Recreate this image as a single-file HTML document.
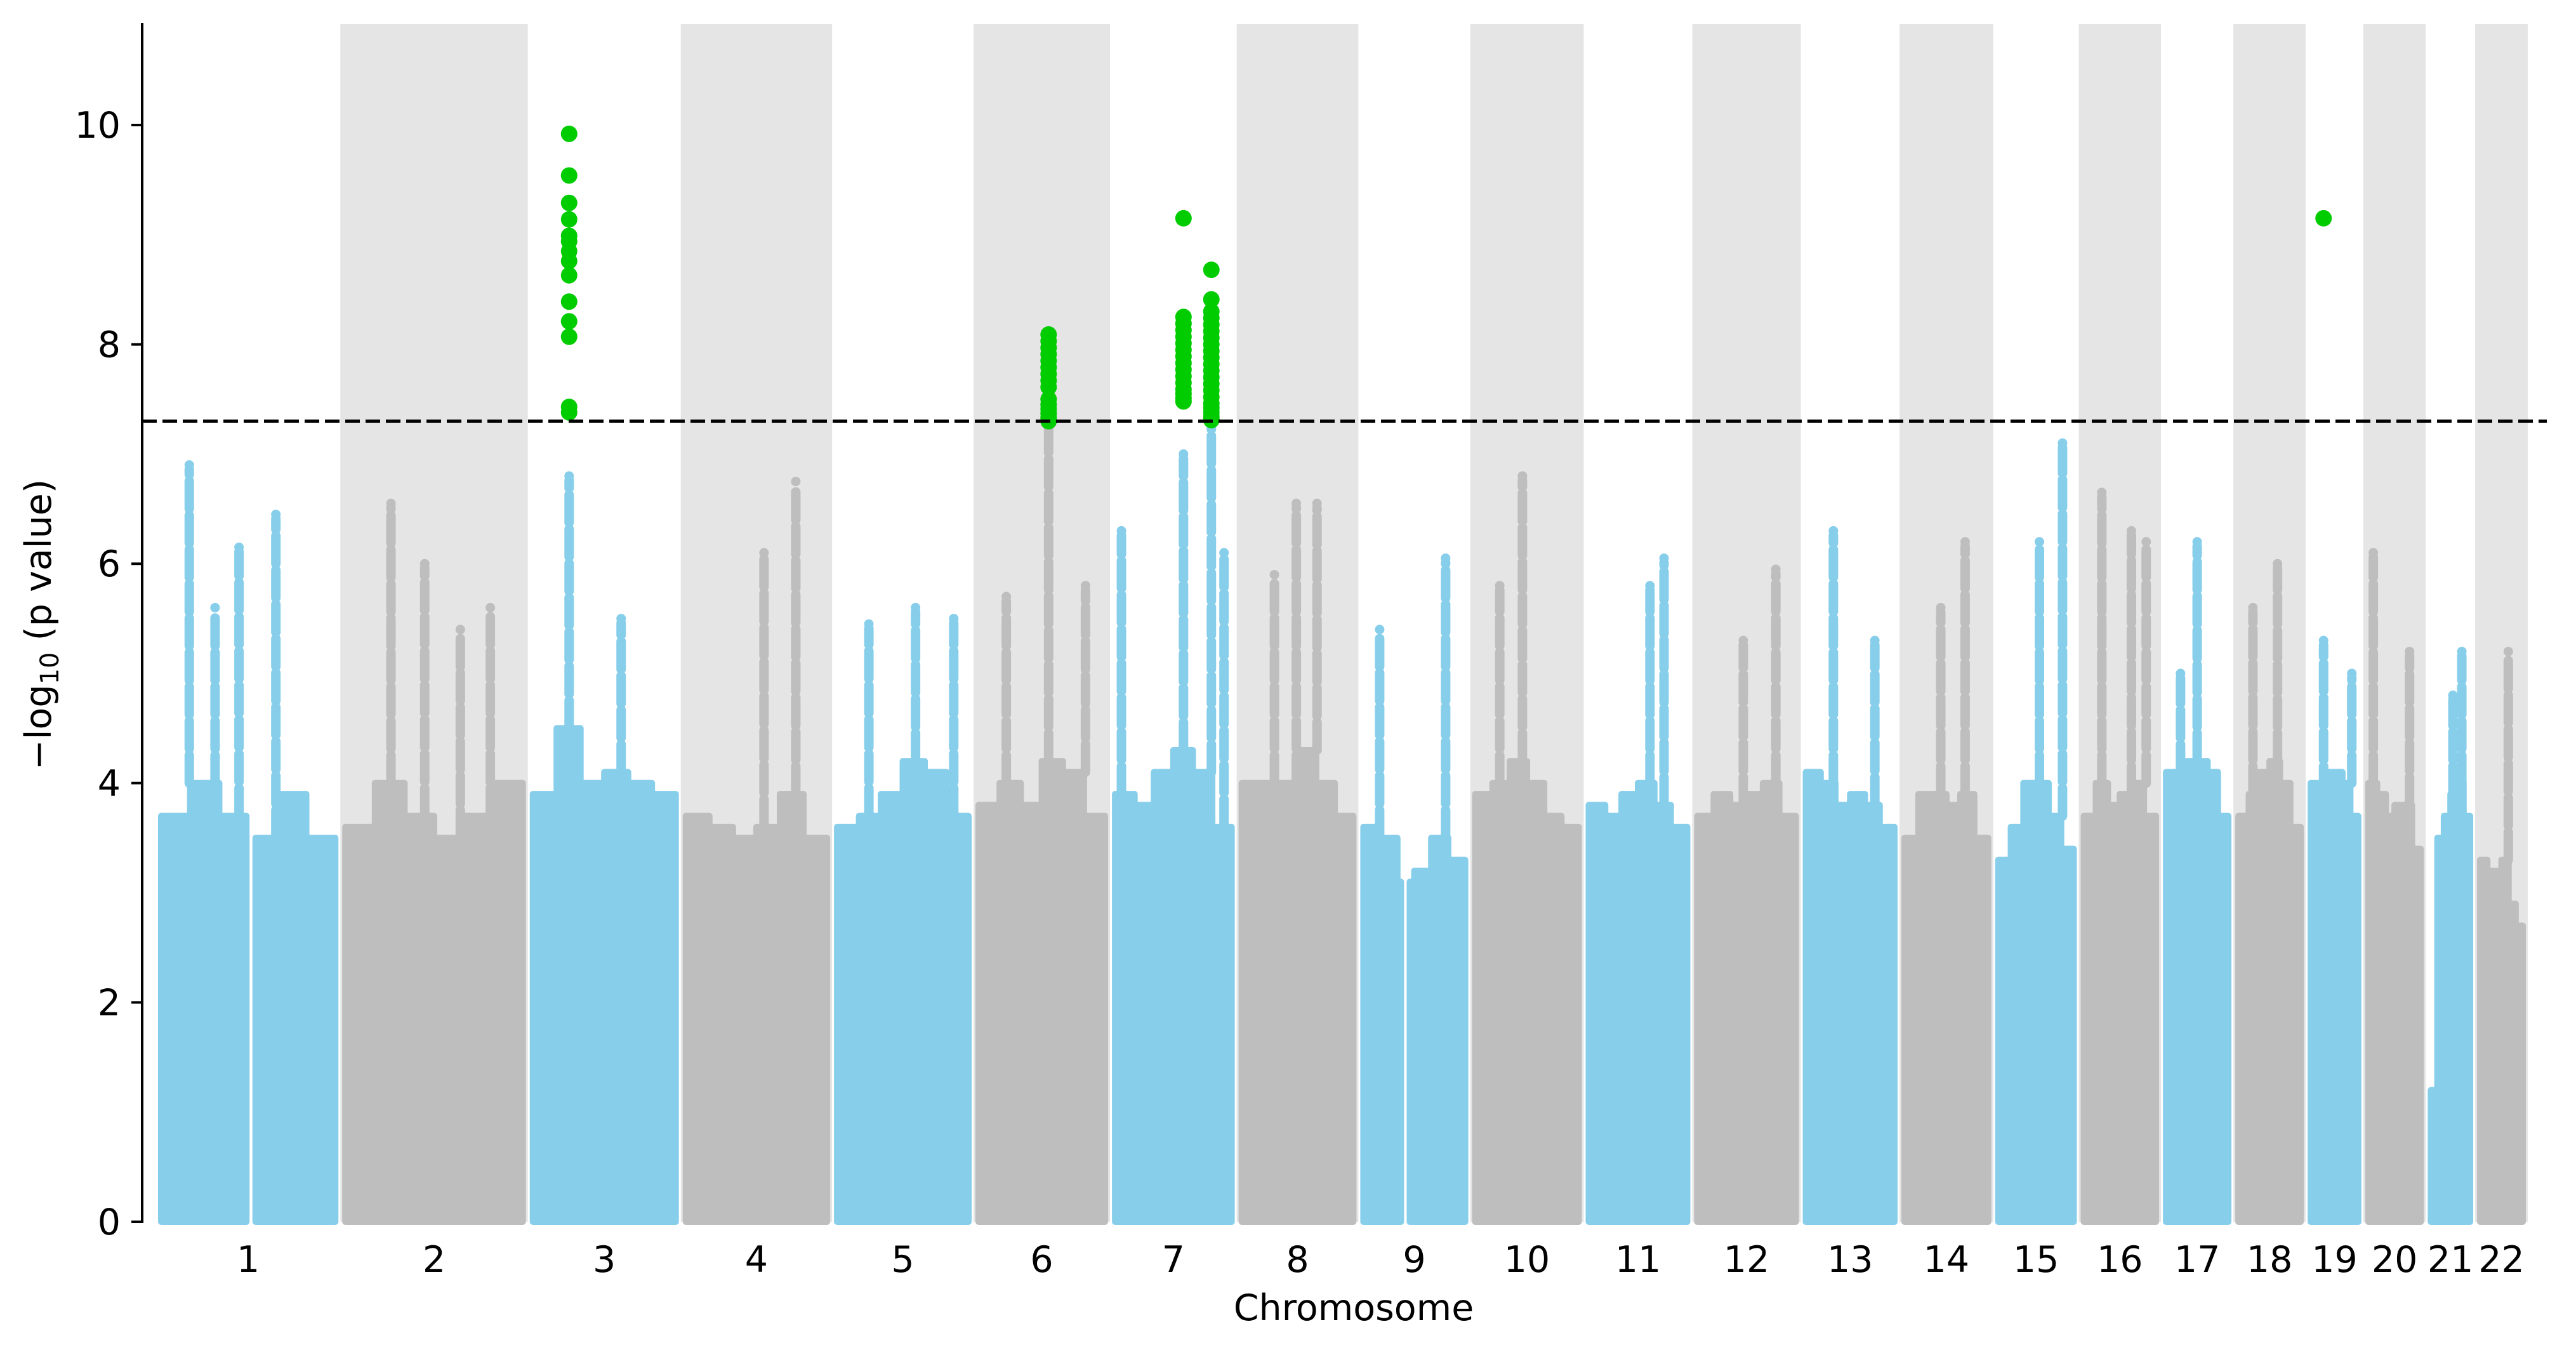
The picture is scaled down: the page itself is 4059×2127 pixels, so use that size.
<!DOCTYPE html>
<html><head><meta charset="utf-8"><style>
html,body{margin:0;padding:0;background:#fff;}
svg{display:block;font-family:"DejaVu Sans","Liberation Sans",sans-serif;}
</style></head><body>
<svg id="chart" width="4059" height="2127" viewBox="0 0 4059 2127" xmlns="http://www.w3.org/2000/svg">
<g id="bands"></g>
<g id="mass"></g>
<g id="sig"></g>
<line id="thr" x1="224" x2="4013" stroke="#000" stroke-width="5" stroke-dasharray="23,9"/>
<line x1="224" y1="36" x2="224" y2="1927" stroke="#000" stroke-width="4"/>
<g id="yticks"></g>
<g id="xticks"></g>
<text x="2133" y="2080" font-size="57" text-anchor="middle">Chromosome</text>
<text transform="translate(80,984) rotate(-90)" font-size="57" text-anchor="middle">−log<tspan font-size="40" dy="12">10</tspan><tspan dy="-12"> (p value)</tspan></text>
</svg>
<script>
const chromosomes=["1","2","3","4","5","6","7","8","9","10","11","12","13","14","15","16","17","18","19","20","21","22"];
const chromWidths=[112,114,93,92,86,83,77,74,68,69,66,66,60,57,52,50,44,44,35,38,30,32];
const binTops=[
[3.7,4.0,3.7,3.5,3.9,3.5],[3.6,4.0,3.7,3.5,3.7,4.0],[3.9,4.5,4.0,4.1,4.0,3.9],[3.7,3.6,3.5,3.6,3.9,3.5],
[3.6,3.7,3.9,4.2,4.1,3.7],[3.8,4.0,3.8,4.2,4.1,3.7],[3.9,3.8,4.1,4.3,4.1,3.6],[4.0,4.0,4.0,4.3,4.0,3.7],
[3.6,3.5,3.1,3.2,3.5,3.3],[3.9,4.0,4.2,4.0,3.7,3.6],[3.8,3.7,3.9,4.0,3.8,3.6],[3.7,3.9,3.8,3.9,4.0,3.7],
[4.1,4.0,3.8,3.9,3.8,3.6],[3.5,3.9,3.9,3.8,3.9,3.5],[3.3,3.6,4.0,4.0,3.7,3.4],[3.7,4.0,3.8,3.9,4.0,3.7],
[4.1,4.1,4.2,4.2,4.1,3.7],[3.7,3.9,4.1,4.2,4.0,3.6],[4.0,3.9,4.1,4.1,4.0,3.7],[4.0,3.9,3.7,3.8,3.8,3.4],
[1.2,3.5,3.7,3.9,4.0,3.7],[3.3,3.2,3.2,3.3,2.9,2.7]];
const gaps=[[1,0.49,0.54],[9,0.38,0.46]];
const spikeChrom=[1,1,1,1,2,2,2,2,3,3,4,4,5,5,5,6,6,6,7,7,7,7,8,8,8,9,9,10,10,11,11,12,12,13,13,14,14,15,15,16,16,16,17,17,18,18,19,19,20,20,21,21,22];
const spikeFrac=[0.18,0.45,0.65,0.32,0.27,0.45,0.80,0.64,0.27,0.61,0.76,0.55,0.26,0.59,0.86,0.55,0.24,0.82,0.09,0.58,0.80,0.90,0.49,0.66,0.31,0.19,0.78,0.46,0.26,0.61,0.74,0.77,0.47,0.33,0.75,0.70,0.44,0.81,0.54,0.28,0.82,0.64,0.50,0.27,0.61,0.27,0.31,0.80,0.16,0.74,0.73,0.55,0.63];
const spikeTop=[6.9,6.15,6.45,5.6,6.55,6.0,5.6,5.4,6.8,5.5,6.75,6.1,5.45,5.6,5.5,7.3,5.7,5.8,6.3,7.0,7.3,6.1,6.55,6.55,5.9,5.4,6.05,6.8,5.8,5.8,6.05,5.95,5.3,6.3,5.3,6.2,5.6,7.1,6.2,6.65,6.2,6.3,6.2,5.0,6.0,5.6,5.3,5.0,6.1,5.2,5.2,4.8,5.2];
const sigChrom=[3,3,3,3,3,3,3,3,3,3,3,3,3,3,
6,6,6,6,6,6,6,6,6,6,6,6,6,6,6,
7,7,7,7,7,7,7,7,7,7,7,7,7,7,7,7,
7,7,7,7,7,7,7,7,7,7,7,7,7,7,7,7,7,7,7,7,7,7,
19];
const sigFrac=[0.27,0.27,0.27,0.27,0.27,0.27,0.27,0.27,0.27,0.27,0.27,0.27,0.27,0.27,
0.55,0.55,0.55,0.55,0.55,0.55,0.55,0.55,0.55,0.55,0.55,0.55,0.55,0.55,0.55,
0.58,0.58,0.58,0.58,0.58,0.58,0.58,0.58,0.58,0.58,0.58,0.58,0.58,0.58,0.58,0.58,
0.80,0.80,0.80,0.80,0.80,0.80,0.80,0.80,0.80,0.80,0.80,0.80,0.80,0.80,0.80,0.80,0.80,0.80,0.80,0.80,0.80,0.80,
0.31];
const sigVal=[9.92,9.54,9.29,9.14,8.99,8.94,8.85,8.76,8.63,8.39,8.21,8.07,7.43,7.38,
8.09,8.03,7.97,7.91,7.85,7.79,7.73,7.67,7.61,7.50,7.45,7.41,7.37,7.33,7.30,
9.15,8.25,8.19,8.13,8.07,8.01,7.95,7.89,7.83,7.77,7.71,7.65,7.59,7.55,7.51,7.48,
8.68,8.41,8.30,8.24,8.18,8.12,8.06,8.00,7.94,7.88,7.82,7.76,7.70,7.64,7.58,7.52,7.46,7.42,7.38,7.34,7.31,7.32,
9.15];
const yTicks=[0,2,4,6,8,10];
const threshold=7.3;

const NS="http://www.w3.org/2000/svg";
const X0=246,X1=3983,Y0=1925,PPU=172.8;
const total=chromWidths.reduce((a,b)=>a+b,0);
const starts=[];let acc=0;chromWidths.forEach(w=>{starts.push(acc);acc+=w;});
const xs=u=>X0+u*(X1-X0)/total;
const ys=v=>Y0-v*PPU;
const chromX=(c,f)=>xs(starts[c-1]+f*chromWidths[c-1]);
function mk(tag,attrs,parent){const e=document.createElementNS(NS,tag);for(const k in attrs)e.setAttribute(k,attrs[k]);parent.appendChild(e);return e;}
const bands=document.getElementById('bands'),mass=document.getElementById('mass'),sig=document.getElementById('sig');
chromosomes.forEach((name,i)=>{
  const c=i+1,a=xs(starts[i]),b=xs(starts[i]+chromWidths[i]);
  if(c%2===0){const r=mk('rect',{x:a,y:38,width:b-a,height:Y0-38,fill:'#e5e5e5'},bands);
    
    }
  const col=c%2===1?'#87ceeb':'#bebebe';
  const pa=a+8,pb=b-8;const bins=binTops[i];const n=bins.length;
  let segs=[[pa,pb]];
  gaps.filter(g=>g[0]===c).forEach(g=>{const ga=chromX(c,g[1]),gb=chromX(c,g[2]);segs=[[pa,ga],[gb,pb]];});
  segs.forEach(s=>{
    let pts=[[s[0],Y0]];
    for(let k=0;k<n;k++){const bx0=pa+(pb-pa)*k/n,bx1=pa+(pb-pa)*(k+1)/n;
      const l=Math.max(bx0,s[0]),r=Math.min(bx1,s[1]);if(r<=l)continue;
      pts.push([l,ys(bins[k])]);pts.push([r,ys(bins[k])]);}
    pts.push([s[1],Y0]);
    const p=mk('polygon',{points:pts.map(q=>q.join(',')).join(' '),fill:col,stroke:col,'stroke-width':10,'stroke-linejoin':'round'},mass);
    
    
  });
  const t=mk('text',{x:(a+b)/2,y:2004,'font-size':57,'text-anchor':'middle'},document.getElementById('xticks'));
  t.textContent=name;
  
  
});
spikeChrom.forEach((c,i)=>{
  const col=c%2===1?'#87ceeb':'#bebebe';
  const x=chromX(c,spikeFrac[i]);const base=binTops[c-1][Math.min(5,Math.floor(spikeFrac[i]*6))];
  const ln=mk('line',{x1:x,x2:x,y1:ys(base),y2:ys(spikeTop[i])+7,stroke:col,'stroke-width':15,'stroke-linecap':'round','stroke-dasharray':'44,10'},mass);
  
  
  const d=mk('circle',{cx:x,cy:ys(spikeTop[i]),r:7.5,fill:col},mass);
  
  
});
sigChrom.forEach((c,i)=>{
  const d=mk('circle',{cx:chromX(c,sigFrac[i]),cy:ys(sigVal[i]),r:13,fill:'#00cc00'},sig);
  
  
});
const thr=document.getElementById('thr');thr.setAttribute('y1',ys(threshold));thr.setAttribute('y2',ys(threshold));
const yt=document.getElementById('yticks');
yTicks.forEach(v=>{
  const l=mk('line',{x1:207,x2:224,y1:ys(v),y2:ys(v),stroke:'#000','stroke-width':4},yt);
  
  
  const t=mk('text',{x:190,y:ys(v)+20,'font-size':57,'text-anchor':'end'},yt);
  t.textContent=String(v);
  
  
});
</script>
</body></html>
